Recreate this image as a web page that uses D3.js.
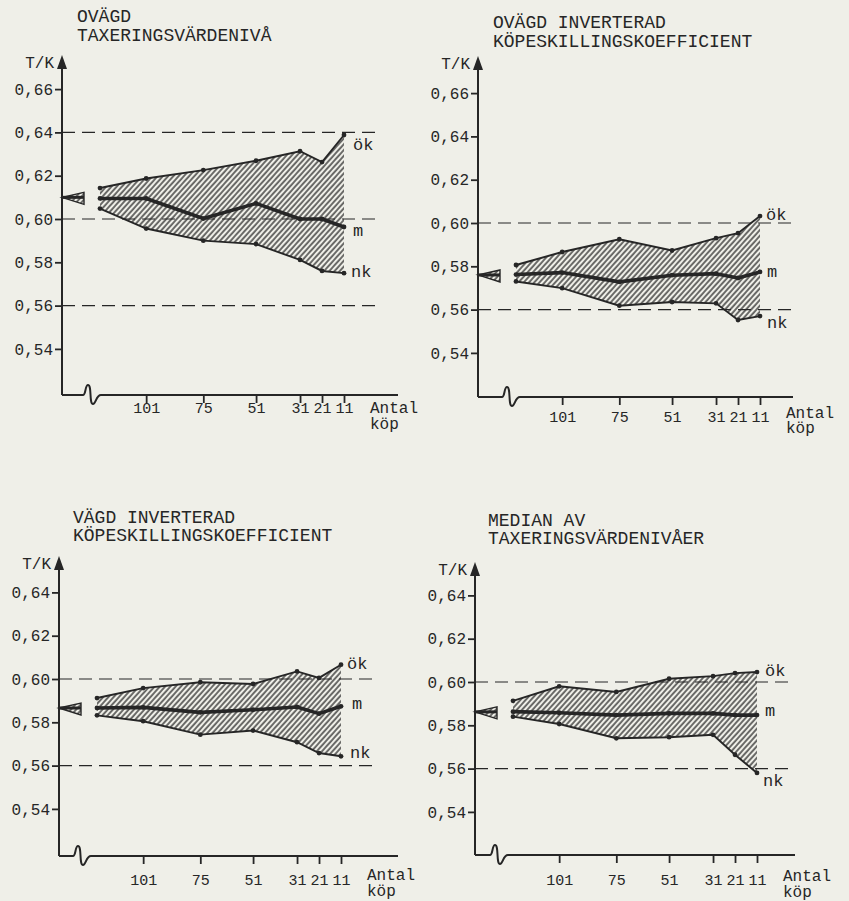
<!DOCTYPE html>
<html lang="sv">
<head>
<meta charset="UTF-8">
<title>T/K efter antal köp</title>
<script src="https://d3js.org/d3.v7.min.js"></script>
<style>
  body, html { margin: 0; padding: 0; background: #efefe8; }
  svg { display: block; }
  text { font-family: "Liberation Mono", "DejaVu Sans Mono", monospace; fill: #262626; }
</style>
</head>
<body>
<div id="chart"></div>
<script>
// antal köp (first value = start of the curves, no tick there)
const antalKop = [122, 101, 75, 51, 31, 21, 11];
const xTickValues = [101, 75, 51, 31, 21, 11];

const titles = [
  ["OVÄGD", "TAXERINGSVÄRDENIVÅ"],
  ["OVÄGD INVERTERAD", "KÖPESKILLINGSKOEFFICIENT"],
  ["VÄGD INVERTERAD", "KÖPESKILLINGSKOEFFICIENT"],
  ["MEDIAN AV", "TAXERINGSVÄRDENIVÅER"]
];
const yTicksHigh = [0.54, 0.56, 0.58, 0.60, 0.62, 0.64, 0.66];
const yTicksLow = [0.54, 0.56, 0.58, 0.60, 0.62, 0.64];
const refLines1 = [0.56, 0.60, 0.64];
const refLines = [0.56, 0.60];
const seriesNames = ["ök", "m", "nk"];

// ovägd taxeringsvärdenivå
const p1Ok = [0.6143, 0.6187, 0.6226, 0.6269, 0.6313, 0.6263, 0.6388];
const p1M  = [0.6095, 0.6095, 0.6002, 0.6072, 0.6000, 0.6000, 0.5963];
const p1Nk = [0.6048, 0.5956, 0.5900, 0.5884, 0.5811, 0.5760, 0.5750];
// ovägd inverterad köpeskillingskoefficient
const p2Ok = [0.5806, 0.5866, 0.5925, 0.5873, 0.5930, 0.5953, 0.6032];
const p2M  = [0.5762, 0.5771, 0.5728, 0.5759, 0.5766, 0.5746, 0.5774];
const p2Nk = [0.5730, 0.5699, 0.5618, 0.5635, 0.5629, 0.5552, 0.5570];
// vägd inverterad köpeskillingskoefficient
const p3Ok = [0.5912, 0.5958, 0.5985, 0.5977, 0.6035, 0.6005, 0.6066];
const p3M  = [0.5866, 0.5869, 0.5846, 0.5858, 0.5871, 0.5840, 0.5874];
const p3Nk = [0.5832, 0.5805, 0.5743, 0.5762, 0.5708, 0.5658, 0.5643];
// median av taxeringsvärdenivåer
const p4Ok = [0.5913, 0.5980, 0.5954, 0.6015, 0.6027, 0.6041, 0.6046];
const p4M  = [0.5863, 0.5858, 0.5847, 0.5855, 0.5855, 0.5847, 0.5847];
const p4Nk = [0.5840, 0.5806, 0.5740, 0.5745, 0.5756, 0.5664, 0.5580];
// value for the whole population (marker at the y axis)
const trueValues = [0.610, 0.576, 0.5866, 0.5862];

const ink = "#262626";
const W = 849, H = 901;

// layout of the four panels
const panels = [
  { ok: p1Ok, m: p1M, nk: p1Nk, yTicks: yTicksHigh, refs: refLines1,
    axisX: 62, y60: 219, axisY: 395, tipY: 55, axisEnd: 398, breakX: 83,
    tickPad: -1, antalY: [18, 34],
    titleX: 77, titleY: [22, 41], lab: [[9, 15], [9, 9], [7, 4]] },
  { ok: p2Ok, m: p2M, nk: p2Nk, yTicks: yTicksHigh, refs: refLines,
    axisX: 478, y60: 223, axisY: 397, tipY: 56, axisEnd: 793, breakX: 502,
    tickPad: 6, antalY: [21, 36],
    titleX: 493, titleY: [28, 47], lab: [[6, 4], [7, 5], [7, 12]] },
  { ok: p3Ok, m: p3M, nk: p3Nk, yTicks: yTicksLow, refs: refLines,
    axisX: 59, y60: 679, axisY: 856, tipY: 556, axisEnd: 398, breakX: 73,
    tickPad: 10, antalY: [24, 40],
    titleX: 73, titleY: [523, 541], lab: [[6, 4], [11, 3], [9, 2]] },
  { ok: p4Ok, m: p4M, nk: p4Nk, yTicks: yTicksLow, refs: refLines,
    axisX: 475, y60: 682, axisY: 855, tipY: 562, axisEnd: 795, breakX: 490,
    tickPad: 11, antalY: [26, 42],
    titleX: 488, titleY: [526, 544], lab: [[8, 4], [8, 1], [6, 13]] }
];

const fmt = d3.formatLocale({ decimal: ",", thousands: " ", grouping: [3], currency: ["", ""] }).format(".2f");

const svg = d3.select("#chart").append("svg")
  .attr("width", W).attr("height", H);

svg.append("rect").attr("width", W).attr("height", H).attr("fill", "#efefe8");

// hatch pattern "////"
const pat = svg.append("defs").append("pattern")
  .attr("id", "hatch")
  .attr("patternUnits", "userSpaceOnUse")
  .attr("width", 3.9).attr("height", 10)
  .attr("patternTransform", "rotate(42)");
pat.append("line")
  .attr("x1", 1).attr("y1", 0).attr("x2", 1).attr("y2", 10)
  .attr("stroke", ink).attr("stroke-width", 1.3);

panels.forEach((p, pi) => {
  const g = svg.append("g");

  const x = d3.scaleLinear().domain([122, 11]).range([p.axisX + 38, p.axisX + 282]);
  // 43.3 px per 0,02
  const y = d3.scaleLinear().domain([0.54, 0.66]).range([p.y60 + 129.9, p.y60 - 129.9]);

  // title
  titles[pi].forEach((t, i) => {
    g.append("text").attr("x", p.titleX).attr("y", p.titleY[i])
      .style("font-size", "18px").text(t);
  });

  // reference dashed lines
  g.selectAll(".ref").data(p.refs).join("line")
    .attr("x1", p.axisX).attr("x2", x(11) + 36)
    .attr("y1", d => y(d)).attr("y2", d => y(d))
    .attr("stroke", ink).attr("stroke-width", 1.1)
    .attr("stroke-dasharray", "13,7");

  // hatched band between ök and nk
  const band = d3.area()
    .x((d, i) => x(antalKop[i]))
    .y0((d, i) => y(p.nk[i]))
    .y1(d => y(d));
  g.append("path").datum(p.ok).attr("d", band)
    .attr("fill", "url(#hatch)").attr("stroke", "none");

  const line = d3.line().x((d, i) => x(antalKop[i])).y(d => y(d));
  [p.ok, p.nk].forEach(s => {
    g.append("path").datum(s).attr("d", line)
      .attr("fill", "none").attr("stroke", ink).attr("stroke-width", 1.9);
  });
  g.append("path").datum(p.m).attr("d", line)
    .attr("fill", "none").attr("stroke", ink).attr("stroke-width", 3.6)
    .attr("stroke-linejoin", "round");

  [p.ok, p.m, p.nk].forEach(s => {
    g.selectAll(null).data(s).join("circle")
      .attr("cx", (d, i) => x(antalKop[i])).attr("cy", d => y(d))
      .attr("r", 2.4).attr("fill", ink);
  });

  // series labels
  [p.ok, p.m, p.nk].forEach((s, si) => {
    g.append("text")
      .attr("x", x(11) + p.lab[si][0])
      .attr("y", y(s[s.length - 1]) + p.lab[si][1])
      .style("font-size", "17px")
      .text(seriesNames[si]);
  });

  // population marker at the y axis
  const tv = y(trueValues[pi]);
  g.append("path")
    .attr("d", `M${p.axisX},${tv} L${p.axisX + 22},${tv - 5} L${p.axisX + 22},${tv + 7} Z`)
    .attr("fill", "url(#hatch)").attr("stroke", ink).attr("stroke-width", 1.4);
  g.append("line")
    .attr("x1", p.axisX).attr("x2", p.axisX + 22).attr("y1", tv).attr("y2", tv)
    .attr("stroke", ink).attr("stroke-width", 3);

  // y axis
  const yAxis = g.append("g")
    .attr("transform", `translate(${p.axisX},0)`)
    .call(d3.axisLeft(y).tickValues(p.yTicks).tickSize(7).tickPadding(2).tickFormat(fmt));
  yAxis.select(".domain").remove();
  yAxis.attr("font-size", null).attr("font-family", null).attr("color", ink);
  yAxis.selectAll("line").attr("stroke-width", 1.8);
  yAxis.selectAll("text").style("font-size", "16px");

  g.append("line")
    .attr("x1", p.axisX).attr("x2", p.axisX)
    .attr("y1", p.tipY + 6).attr("y2", p.axisY)
    .attr("stroke", ink).attr("stroke-width", 2);
  g.append("path")
    .attr("d", `M${p.axisX},${p.tipY} L${p.axisX - 5},${p.tipY + 14} L${p.axisX + 5},${p.tipY + 14} Z`)
    .attr("fill", ink);
  g.append("text")
    .attr("x", p.axisX - 8).attr("y", p.tipY + 13)
    .attr("text-anchor", "end").style("font-size", "16px")
    .text("T/K");

  // x axis with break
  const xAxis = g.append("g")
    .attr("transform", `translate(0,${p.axisY})`)
    .call(d3.axisBottom(x).tickValues(xTickValues).tickSize(8).tickPadding(p.tickPad).tickFormat(d3.format("d")));
  xAxis.select(".domain").remove();
  xAxis.attr("font-size", null).attr("font-family", null).attr("color", ink);
  xAxis.selectAll("line").attr("stroke-width", 1.8);
  xAxis.selectAll("text").style("font-size", "15px");

  const b = p.breakX, a = p.axisY;
  g.append("path")
    .attr("d", `M${p.axisX},${a} L${b},${a}` +
      ` C${b + 3},${a} ${b + 2},${a - 10} ${b + 5},${a - 10}` +
      ` C${b + 9},${a - 10} ${b + 6},${a + 9} ${b + 10},${a + 9}` +
      ` C${b + 13},${a + 9} ${b + 13},${a} ${b + 18},${a}` +
      ` L${p.axisEnd},${a}`)
    .attr("fill", "none").attr("stroke", ink).attr("stroke-width", 2);

  g.append("text").attr("x", p.axisX + 308).attr("y", p.axisY + p.antalY[0])
    .style("font-size", "16px").text("Antal");
  g.append("text").attr("x", p.axisX + 308).attr("y", p.axisY + p.antalY[1])
    .style("font-size", "16px").text("köp");
});
</script>
</body>
</html>
